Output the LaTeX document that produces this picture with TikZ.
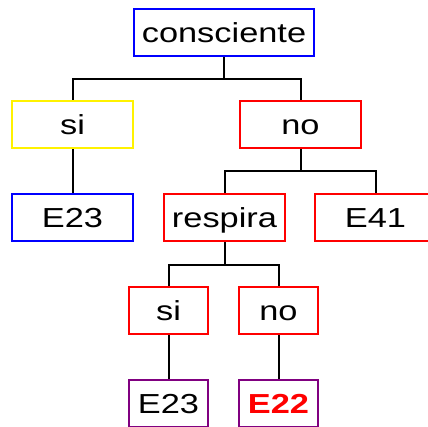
\documentclass[tikz,border=0pt]{standalone}
\usepackage{fontspec}
\setmainfont{Liberation Sans}[FakeStretch=1.25]
\usepackage{xcolor}
\usetikzlibrary{positioning}
\definecolor{leafpurple}{RGB}{128,0,128}
\tikzset{
  box/.style={draw=#1, line width=2pt, inner sep=0pt, minimum height=47pt,
    text height=19.5pt, text depth=0pt, font=\fontsize{27.5}{30}\selectfont},
  wide/.style={box=#1, minimum width=121pt},
  narrow/.style={box=#1, minimum width=79pt},
  link/.style={line width=2pt, black},
}

\begin{document}
\begin{tikzpicture}[x=1pt, y=-1pt]
        % Page (boxes on the right and bottom run off the edge)
        \clip (0,0) rectangle (428,427);
        % Root
        \node[box=blue, minimum width=180pt] (top) at (224,32.5) {consciente};
        % First answer
        \node[wide=yellow] (si) at (72.5,125) {si};
        \node[wide=red]    (no) at (300.5,125) {no};
        % Second row
        \node[wide=blue] (eA) at (72.5,218) {E23};
        \node[wide=red]  (resp) at (224.5,218) {respira};
        \node[wide=red]  (eD) at (375.5,218) {E41};
        % Breathing answer
        \node[narrow=red] (siR) at (168.5,310.5) {si};
        \node[narrow=red] (noR) at (278.5,310.5) {no};
        % Leaves
        \node[narrow=leafpurple] (eB) at (168.5,403.5) {E23};
        \node[narrow=leafpurple, text=red, font=\fontsize{27.5}{30}\selectfont\bfseries] (eC) at (278.5,403.5) {E22};
        % Connectors
        \draw[link] (top.south) -- ++(0,22) coordinate (j1);
        \draw[link] (j1) -| (si.north);
        \draw[link] (j1) -| (no.north);
        \draw[link] (si.south) -- (eA.north);
        \draw[link] (no.south) -- ++(0,22) coordinate (j2);
        \draw[link] (j2) -| (resp.north);
        \draw[link] (j2) -| (eD.north);
        \draw[link] (resp.south) -- ++(0,23) coordinate (j3);
        \draw[link] (j3) -| (siR.north);
        \draw[link] (j3) -| (noR.north);
        \draw[link] (siR.south) -- (eB.north);
        \draw[link] (noR.south) -- (eC.north);
\end{tikzpicture}
\end{document}
